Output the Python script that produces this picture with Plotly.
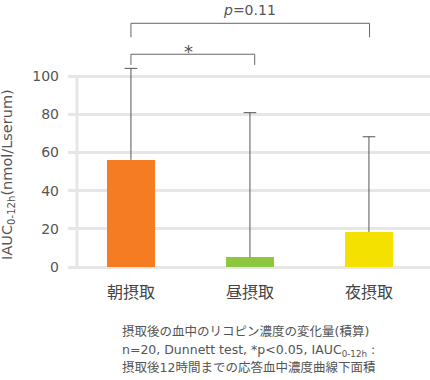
import plotly.graph_objects as go

categories = ["朝摂取", "昼摂取", "夜摂取"]
means = [56.2, 5.2, 18.4]
sd_upper = [47.8, 75.6, 49.8]
bar_colors = ["#F57C22", "#8DC63F", "#F5E100"]
y_ticks = [0, 20, 40, 60, 80, 100]
notes = [
    "摂取後の血中のリコピン濃度の変化量(積算)",
    "n=20, Dunnett test, *p<0.05, IAUC<sub>0-12h</sub> :",
    "摂取後12時間までの応答血中濃度曲線下面積",
]

FONT = "DejaVu Sans, Noto Sans CJK JP, sans-serif"
CJK = "Noto Sans CJK JP, sans-serif"
GRID = "#e6e6e6"
INK = "#555555"

xs = list(range(len(categories)))
tops = [m + s for m, s in zip(means, sd_upper)]

fig = go.Figure()
fig.add_trace(go.Bar(
    x=xs, y=means, width=0.403,
    marker=dict(color=bar_colors, line=dict(width=0)),
    hoverinfo="skip",
))

# upper-only error bars (stem + top cap)
stem_x, stem_y = [], []
for x, m, t in zip(xs, means, tops):
    stem_x += [x, x, None]
    stem_y += [m, t, None]
fig.add_trace(go.Scatter(x=stem_x, y=stem_y, mode="lines",
                         line=dict(color=INK, width=1), hoverinfo="skip"))
fig.add_trace(go.Scatter(x=xs, y=tops, mode="markers",
                         marker=dict(symbol="line-ew-open", size=9, color=INK,
                                     line=dict(color=INK, width=1)),
                         hoverinfo="skip"))

# y axis line
fig.add_shape(type="line", xref="x", yref="y", x0=-0.454, x1=-0.454, y0=0, y1=100,
              line=dict(color=GRID, width=3), layer="below")

# significance brackets
def bracket(x0, x1, ytop, ybot):
    fig.add_shape(type="path", xref="x", yref="y",
                  path=f"M {x0},{ybot} L {x0},{ytop} L {x1},{ytop} L {x1},{ybot}",
                  line=dict(color="#666666", width=1))

bracket(0, 2.005, 127.6, 120.3)
bracket(0, 1.04, 111.4, 105.8)

fig.add_annotation(x=1.0, y=134.8, xref="x", yref="y", text="<i>p</i>=0.11",
                   showarrow=False, font=dict(family=FONT, size=14, color=INK))
fig.add_annotation(x=0.48, y=113.0, xref="x", yref="y", text="*",
                   showarrow=False, font=dict(family=FONT, size=18, color=INK))

# y axis title
fig.add_annotation(x=-0.166, y=48.7, xref="paper", yref="y", xanchor="center",
                   text="IAUC<sub>0-12h</sub>(nmol/Lserum)", textangle=-90,
                   showarrow=False, font=dict(family=FONT, size=14.5, color=INK))

# notes
note_y = [-0.207, -0.273, -0.338]
for txt, yy in zip(notes, note_y):
    fig.add_annotation(x=0.145, y=yy, xref="paper", yref="paper",
                       xanchor="left", yanchor="middle", text=txt, showarrow=False,
                       font=dict(family=FONT, size=12.5, color=INK))

fig.update_layout(
    width=430, height=380,
    margin=dict(l=68, r=0, t=0, b=105),
    paper_bgcolor="white", plot_bgcolor="white",
    showlegend=False,
    bargap=0,
    xaxis=dict(range=[-0.529, 2.513], tickvals=xs, ticktext=categories,
               showgrid=False, zeroline=False, showline=False, ticks="",
               tickfont=dict(family=CJK, size=16, color="#444444"),
               ticklabelstandoff=6, fixedrange=True),
    yaxis=dict(range=[-4.19, 139.8], tickvals=y_ticks, showgrid=True,
               gridcolor=GRID, gridwidth=3, zeroline=False, showline=False,
               ticks="", tickfont=dict(family=FONT, size=14, color=INK),
               ticklabelstandoff=8, fixedrange=True),
)

fig.write_html("out.html", config={"displayModeBar": False},
               post_script="document.body.style.margin='0';")
